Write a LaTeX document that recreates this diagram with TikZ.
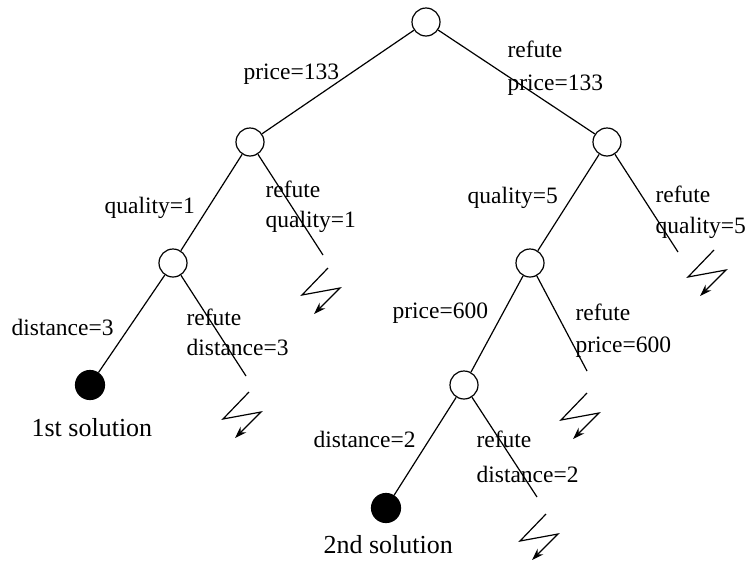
\documentclass[tikz,border=0pt]{standalone}
\usepackage{fontspec}
\setmainfont{Liberation Serif}
\usetikzlibrary{arrows.meta}
\begin{document}
\begin{tikzpicture}[x=1pt,y=-1pt,line width=1.2pt,
  state/.style={circle,draw,fill=white,minimum size=28pt,inner sep=0pt},
  goal/.style={circle,draw,fill=black,minimum size=29pt,inner sep=0pt},
  lbl/.style={anchor=base west,inner sep=0pt,font=\fontsize{23.5}{28}\selectfont},
  sol/.style={anchor=base west,inner sep=0pt,font=\fontsize{26}{31}\selectfont},
  bolt/.style={-{Stealth[length=12pt,width=8pt]}}]
\useasboundingbox (0,0) rectangle (750,560);

% search tree nodes
\node[state] (root) at (426,22) {};
\node[state] (a) at (250,142) {};
\node[state] (b) at (607,142) {};
\node[state] (c) at (173,263) {};
\node[state] (d) at (530,263) {};
\node[goal]  (e) at (90,385) {};
\node[state] (f) at (464,385) {};
\node[goal]  (g) at (386,508) {};

% ends of the refuting branches
\coordinate (ra) at (323,255);
\coordinate (rb) at (678,252);
\coordinate (rc) at (246,376);
\coordinate (rd) at (587,371);
\coordinate (rf) at (537,497);

% start points of the failure bolts
\coordinate (ba) at (328,268);
\coordinate (bb) at (714,250);
\coordinate (bc) at (249,392);
\coordinate (bd) at (587,393);
\coordinate (bf) at (546,514);

% branches
\draw (root) -- (a);
\draw (root) -- (b);
\draw (a) -- (c);
\draw (a) -- (ra);
\draw (b) -- (d);
\draw (b) -- (rb);
\draw (c) -- (e);
\draw (c) -- (rc);
\draw (d) -- (f);
\draw (d) -- (rd);
\draw (f) -- (g);
\draw (f) -- (rf);

% failure bolts
\foreach \s in {ba,bb,bc,bd,bf}
  \draw[bolt] (\s) -- ++(-26,27) -- ++(38,-7) -- ++(-26,26);

% branch labels
\node[lbl] (l1) at (243,79) {price=133};
\node[lbl] (l2) at (507,57) {refute};
\node[lbl] (l3) at (507,90) {price=133};
\node[lbl] (l4) at (104,213) {quality=1};
\node[lbl] (l5) at (265,197) {refute};
\node[lbl] (l6) at (265,227) {quality=1};
\node[lbl] (l7) at (467,203) {quality=5};
\node[lbl] (l8) at (655,202) {refute};
\node[lbl] (l9) at (655,233) {quality=5};
\node[lbl] (l10) at (11,335) {distance=3};
\node[lbl] (l11) at (186,325) {refute};
\node[lbl] (l12) at (186,355) {distance=3};
\node[lbl] (l13) at (392,318) {price=600};
\node[lbl] (l14) at (575,320) {refute};
\node[lbl] (l15) at (575,352) {price=600};
\node[lbl] (l16) at (313,447) {distance=2};
\node[lbl] (l17) at (476,447) {refute};
\node[lbl] (l18) at (476,482) {distance=2};

% solutions
\node[sol] (s1) at (31,436) {1st solution};
\node[sol] (s2) at (323,553) {2nd solution};
\end{tikzpicture}
\end{document}
